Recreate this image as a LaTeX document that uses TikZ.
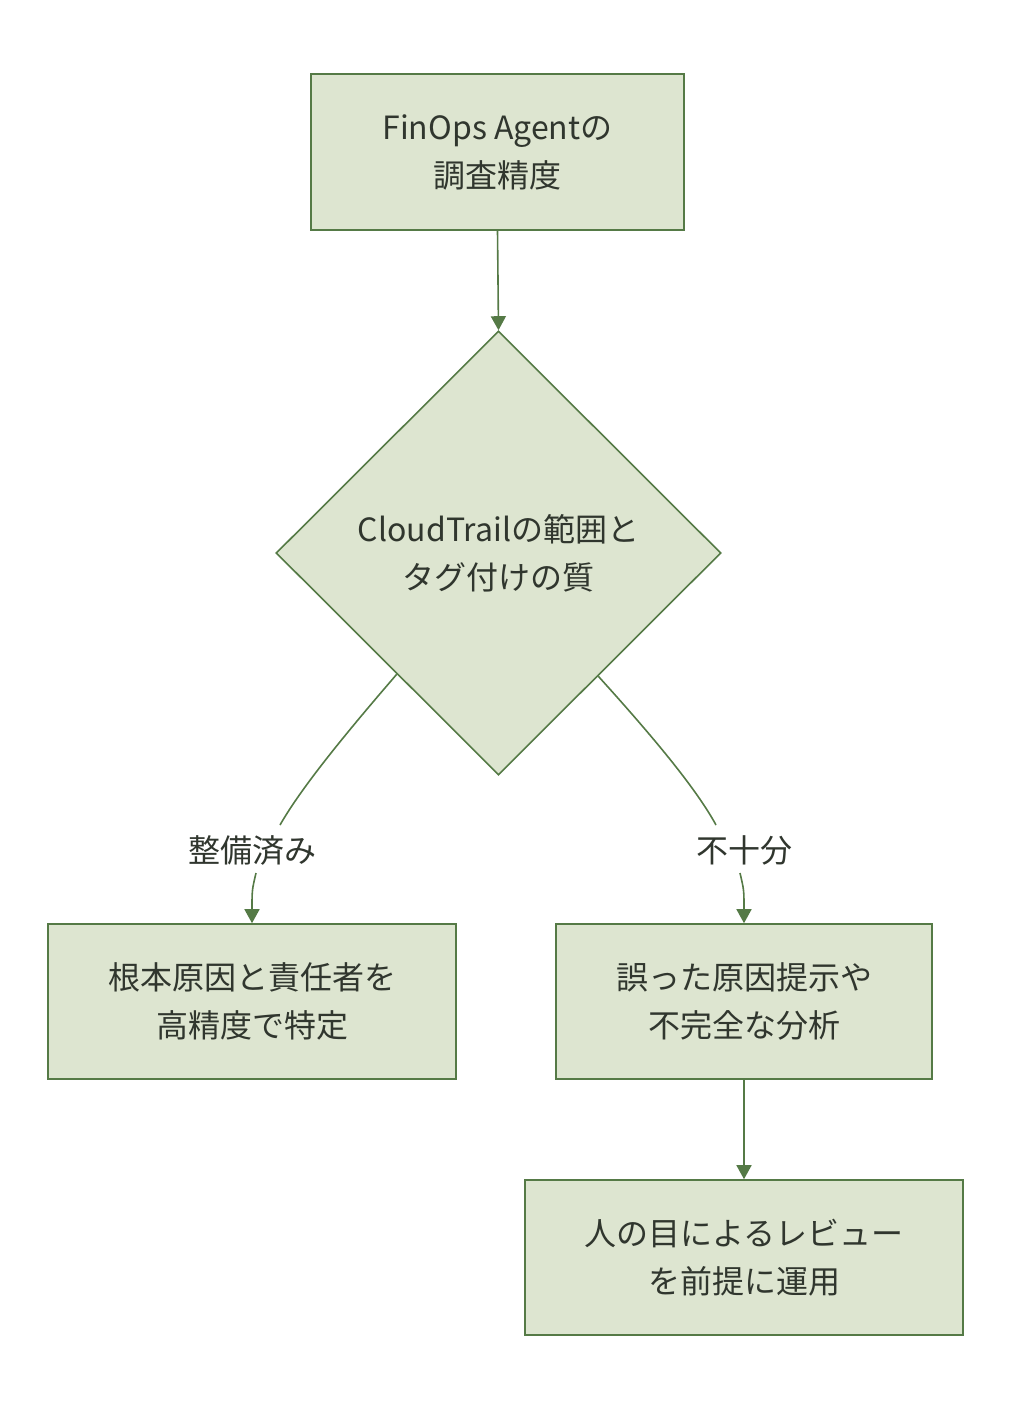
\documentclass[tikz,border=0pt]{standalone}
\usepackage{fontspec}
\setmainfont{Noto Sans CJK JP}
\usetikzlibrary{shapes.geometric,arrows.meta}
\definecolor{boxfill}{HTML}{DDE5D0}
\definecolor{boxline}{HTML}{557A46}
\definecolor{txt}{HTML}{30362E}
\begin{document}
\begin{tikzpicture}[x=1pt,y=-1pt,
  box/.style={draw=boxline,fill=boxfill,line width=1.6pt,inner sep=0pt,align=center,text=txt,font=\fontsize{32}{48}\selectfont},
  dia/.style={diamond,draw=boxline,fill=boxfill,line width=1.6pt,inner sep=0pt,align=center,text=txt,font=\fontsize{32}{48}\selectfont,minimum width=445pt,minimum height=444pt},
  lbl/.style={text=txt,font=\fontsize{32}{38}\selectfont,inner sep=2pt},
  edge/.style={draw=boxline,line width=1.6pt},
  arr/.style={edge,-{Triangle[width=15pt,length=14pt]}}]
\useasboundingbox (0,0) rectangle (1012,1414);
\node[box,minimum width=373pt,minimum height=156pt] (top) at (497.5,152) {FinOps Agentの\\調査精度};
\node[dia] (d) at (498.5,553) {CloudTrailの範囲と\\タグ付けの質};
\node[box,minimum width=408pt,minimum height=155pt] (left) at (252,1001.5) {根本原因と責任者を\\高精度で特定};
\node[box,minimum width=376pt,minimum height=155pt] (right) at (744,1001.5) {誤った原因提示や\\不完全な分析};
\node[box,minimum width=438pt,minimum height=155pt] (bot) at (744,1257.5) {人の目によるレビュー\\を前提に運用};
\node[lbl] (l1) at (252,850) {整備済み};
\node[lbl] (l2) at (744,850) {不十分};
\draw[arr] (top.south) -- (d.north);
\draw[edge] (d.230.6) .. controls (340,740) and (300,790) .. (280,825);
\draw[arr] (256,873) .. controls (252,890) .. (left.north);
\draw[edge] (d.309.4) .. controls (656,740) and (697,790) .. (716,825);
\draw[arr] (740,873) .. controls (744,890) .. (right.north);
\draw[arr] (right.south) -- (bot.north);
\end{tikzpicture}
\end{document}
